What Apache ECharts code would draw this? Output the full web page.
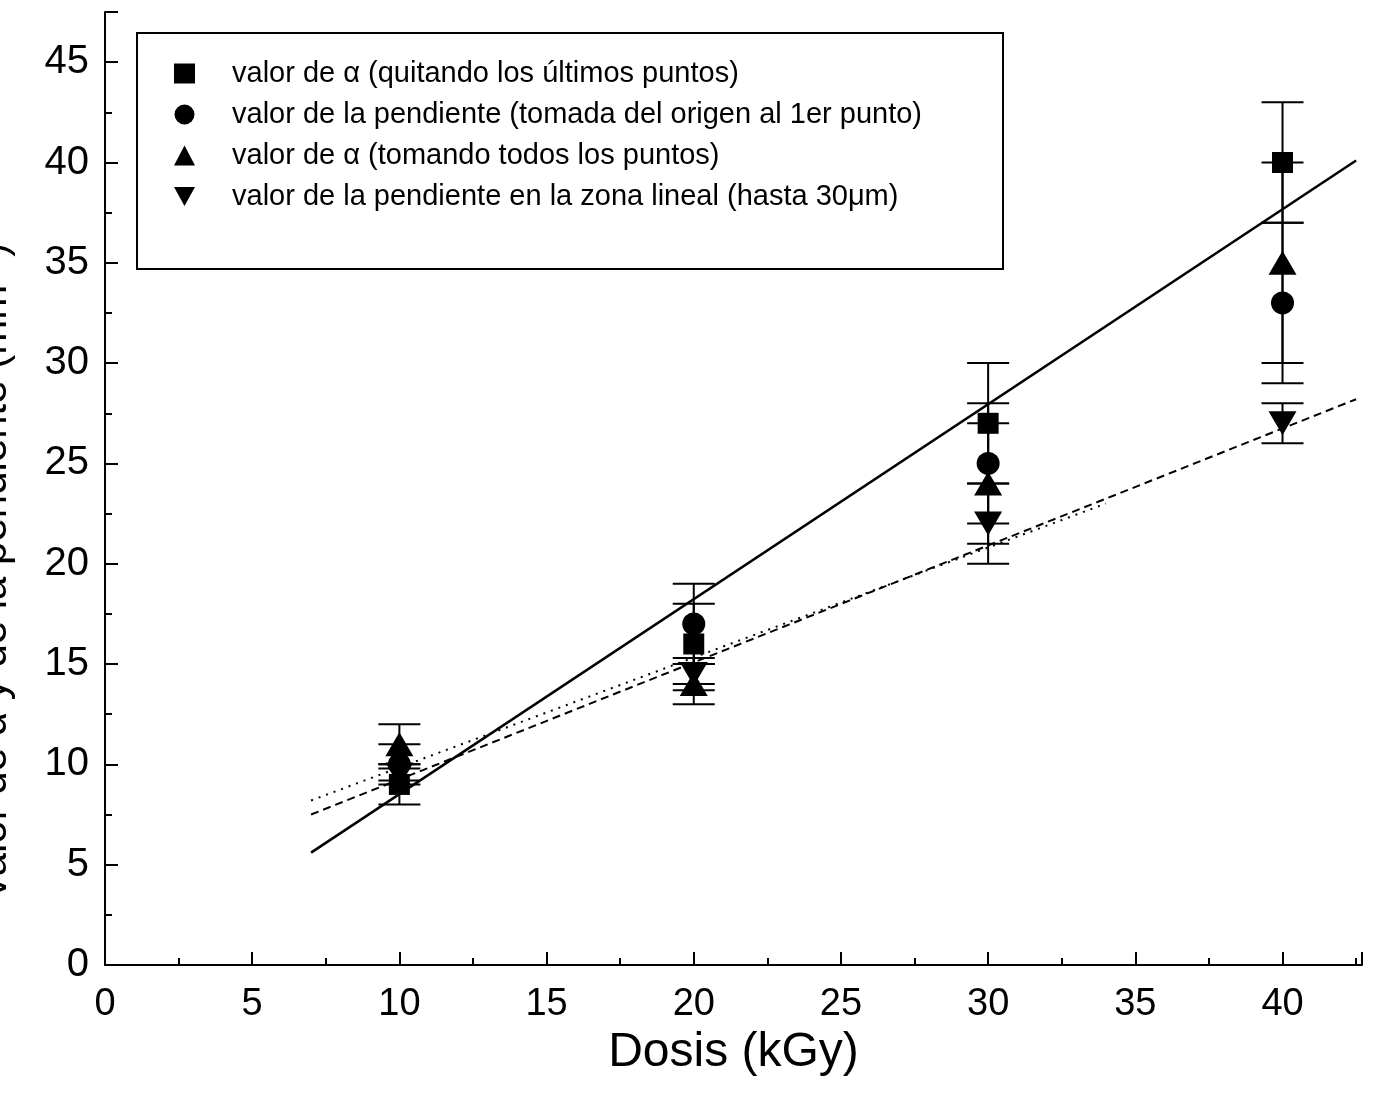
<!DOCTYPE html>
<html>
<head>
<meta charset="utf-8">
<script src="https://cdn.jsdelivr.net/npm/echarts@6/dist/echarts.min.js"></script>
<style>
  html, body { margin: 0; padding: 0; background: #fff; }
  #chart { width: 1374px; height: 1099px; }
</style>
</head>
<body>
<div id="chart"></div>
<script>
// dose values (kGy)
const doses = [10, 20, 30, 40];

// valor de alpha (quitando los ultimos puntos)
const squareVals = [9, 16, 27, 40];
const squareErr = [1, 2, 3, 3];
// valor de la pendiente (origen al 1er punto)
const circleVals = [10, 17, 25, 33];
const circleErr = [1, 2, 3, 4];
// valor de alpha (todos los puntos)
const triUpVals = [11, 14, 24, 35];
const triUpErr = [1, 1, 3, 5];
// pendiente en la zona lineal
const triDownVals = [9.5, 14.5, 22, 27];
const triDownErr = [0.3, 0.8, 2, 1];

// fitted lines, endpoints
const fitSolid = [[7, 5.6], [42.5, 40.1]];
const fitDashed = [[7, 7.5], [42.5, 28.2]];
const fitDotted = [[7, 8.2], [34, 23.0]];

const xTicks = [0, 5, 10, 15, 20, 25, 30, 35, 40];
const yTicks = [0, 5, 10, 15, 20, 25, 30, 35, 40, 45];

const names = [
  'valor de α (quitando los últimos puntos)',
  'valor de la pendiente (tomada del origen al 1er punto)',
  'valor de α (tomando todos los puntos)',
  'valor de la pendiente en la zona lineal (hasta 30μm)'
];

const FONT = '"Liberation Sans", Arial, sans-serif';
const downTri = 'path://M0,0 L10,0 L5,9 Z';

const pts = (vals) => doses.map((d, i) => [d, vals[i]]);
const errs = (vals, e) => doses.map((d, i) => [d, vals[i] - e[i], vals[i] + e[i]]);

function errorBar(params, api) {
  const x = api.value(0);
  const lo = api.coord([x, api.value(1)]);
  const hi = api.coord([x, api.value(2)]);
  const hw = 21;
  const style = { stroke: '#000', lineWidth: 2 };
  return {
    type: 'group',
    children: [
      { type: 'line', shape: { x1: lo[0], y1: lo[1], x2: hi[0], y2: hi[1] }, style: style },
      { type: 'line', shape: { x1: lo[0] - hw, y1: lo[1], x2: lo[0] + hw, y2: lo[1] }, style: style },
      { type: 'line', shape: { x1: hi[0] - hw, y1: hi[1], x2: hi[0] + hw, y2: hi[1] }, style: style }
    ]
  };
}

const errSeries = (data) => ({
  type: 'custom',
  renderItem: errorBar,
  data: data,
  silent: true,
  z: 3,
  encode: { x: 0, y: [1, 2] }
});

const markStyle = { color: '#000', opacity: 1 };

const chart = echarts.init(document.getElementById('chart'));

const option = {
  backgroundColor: '#fff',
  animation: false,
  textStyle: { fontFamily: FONT, color: '#000' },
  grid: { left: 105, top: 12, width: 1257, height: 953 },
  legend: {
    orient: 'vertical',
    left: 137,
    top: 33,
    padding: [26, 81, 58, 37],
    itemGap: 12,
    itemWidth: 21,
    itemHeight: 20,
    borderColor: '#000',
    borderWidth: 2,
    backgroundColor: '#fff',
    textStyle: { fontSize: 29, fontFamily: FONT, color: '#000', padding: [0, 0, 0, 32] },
    data: [
      { name: names[0], icon: 'rect' },
      { name: names[1], icon: 'circle' },
      { name: names[2], icon: 'triangle' },
      { name: names[3], icon: downTri }
    ]
  },
  xAxis: {
    type: 'value',
    min: 0,
    max: 42.7,
    interval: 5,
    name: 'Dosis (kGy)',
    nameLocation: 'middle',
    nameGap: 60,
    nameTextStyle: { fontSize: 48, fontFamily: FONT, color: '#000' },
    axisLine: { lineStyle: { color: '#000', width: 2 } },
    axisTick: { inside: true, length: 13, lineStyle: { color: '#000', width: 2 } },
    minorTick: { show: true, splitNumber: 2, length: 7, lineStyle: { color: '#000', width: 2 } },
    axisLabel: {
      fontSize: 38, color: '#000', margin: 21, fontFamily: FONT,
      formatter: (v) => (xTicks.indexOf(v) >= 0 ? String(v) : '')
    },
    splitLine: { show: false }
  },
  yAxis: {
    type: 'value',
    min: 0,
    max: 47.5,
    interval: 5,
    axisLine: { lineStyle: { color: '#000', width: 2 } },
    axisTick: { inside: true, length: 13, lineStyle: { color: '#000', width: 2 } },
    minorTick: { show: true, splitNumber: 2, length: 7, lineStyle: { color: '#000', width: 2 } },
    axisLabel: {
      fontSize: 40, color: '#000', margin: 16, fontFamily: FONT,
      formatter: (v) => (yTicks.indexOf(v) >= 0 ? String(v) : '')
    },
    splitLine: { show: false }
  },
  graphic: [{
    type: 'text',
    x: -6,
    y: 572,
    rotation: Math.PI / 2,
    style: {
      text: 'Valor de α y de la pendiente (mm⁻¹)',
      font: '42px ' + FONT,
      fill: '#000',
      textAlign: 'center',
      textVerticalAlign: 'middle'
    }
  }],
  series: [
    { type: 'line', data: fitSolid, showSymbol: false, silent: true, z: 2,
      lineStyle: { color: '#000', width: 2.5, type: 'solid' } },
    { type: 'line', data: fitDashed, showSymbol: false, silent: true, z: 2,
      lineStyle: { color: '#000', width: 2, type: [8, 5] } },
    { type: 'line', data: fitDotted, showSymbol: false, silent: true, z: 2,
      lineStyle: { color: '#000', width: 2, type: [2, 6] } },
    errSeries(errs(squareVals, squareErr)),
    errSeries(errs(circleVals, circleErr)),
    errSeries(errs(triUpVals, triUpErr)),
    errSeries(errs(triDownVals, triDownErr)),
    { name: names[0], type: 'scatter', data: pts(squareVals), symbol: 'rect', symbolSize: 21,
      itemStyle: markStyle, z: 4 },
    { name: names[1], type: 'scatter', data: pts(circleVals), symbol: 'circle', symbolSize: 23,
      itemStyle: markStyle, z: 4 },
    { name: names[2], type: 'scatter', data: pts(triUpVals), symbol: 'triangle', symbolSize: [28, 24],
      itemStyle: markStyle, z: 4 },
    { name: names[3], type: 'scatter', data: pts(triDownVals), symbol: downTri, symbolSize: [28, 24],
      itemStyle: markStyle, z: 4 }
  ]
};

chart.setOption(option);
</script>
</body>
</html>
